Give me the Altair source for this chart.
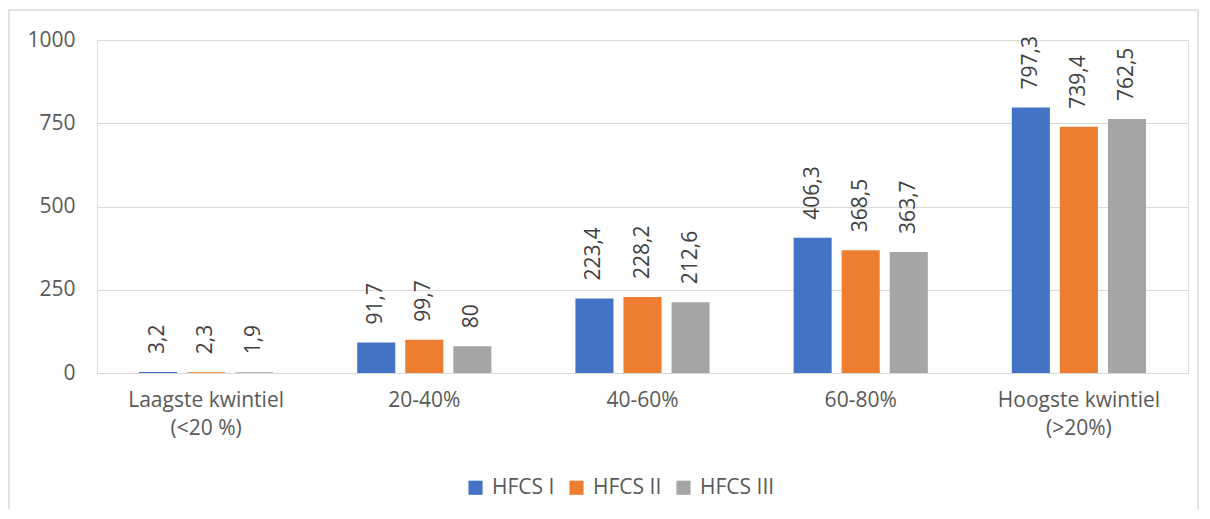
import altair as alt
import pandas as pd

categories = ["Laagste kwintiel|(<20 %)", "20-40%", "40-60%", "60-80%", "Hoogste kwintiel|(>20%)"]
series = ["HFCS I", "HFCS II", "HFCS III"]
hfcs1 = [3.2, 91.7, 223.4, 406.3, 797.3]
hfcs2 = [2.3, 99.7, 228.2, 368.5, 739.4]
hfcs3 = [1.9, 80.0, 212.6, 363.7, 762.5]
colors = ["#4472c4", "#ed7d31", "#a5a5a5"]

rows = []
for s, vals in zip(series, [hfcs1, hfcs2, hfcs3]):
    for c, v in zip(categories, vals):
        lab = ("%g" % v).replace(".", ",")
        rows.append({"cat": c, "series": s, "value": v, "label": lab})
df = pd.DataFrame(rows)

FONT = "Open Sans"
FS = 21
W, H = 1091, 333

x = alt.X("cat:N", sort=categories, scale=alt.Scale(paddingInner=0, paddingOuter=0),
          axis=alt.Axis(title=None, labelAngle=0, labelExpr="split(datum.label, '|')",
                        labelFontSize=FS, labelColor="#595959", labelFont=FONT,
                        labelLineHeight=28, labelPadding=16, ticks=False, domain=False,
                        grid=False))
xo = alt.XOffset("series:N", sort=series, scale=alt.Scale(paddingInner=0.208, paddingOuter=0.874))
y = alt.Y("value:Q", scale=alt.Scale(domain=[0, 1000], nice=False),
          axis=alt.Axis(title=None, values=[0, 250, 500, 750, 1000], format="d", labelFontSize=FS,
                        labelColor="#595959", labelFont=FONT, labelPadding=22,
                        ticks=False, domain=False, gridColor="#d9d9d9", gridWidth=1))

bars = alt.Chart(df).mark_bar().encode(
    x=x, xOffset=xo, y=y,
    color=alt.Color("series:N", sort=series, scale=alt.Scale(domain=series, range=colors),
                    legend=alt.Legend(title=None, orient="none", direction="horizontal",
                                      legendX=368, legendY=437, symbolType="square",
                                      symbolSize=200, symbolStrokeWidth=0, labelFontSize=FS,
                                      labelFont=FONT, labelColor="#595959", columnPadding=11,
                                      labelOffset=6))
)

texts = alt.Chart(df).mark_text(angle=270, align="left", baseline="middle", dx=18,
                                fontSize=FS, font=FONT, color="#404040").encode(
    x=alt.X("cat:N", sort=categories), xOffset=alt.XOffset("series:N", sort=series), y="value:Q",
    text="label:N")

border = alt.Chart(pd.DataFrame({"a": [0]})).mark_rect(fill=None, stroke="#d9d9d9", strokeWidth=1.5).encode(
    x=alt.value(-88), x2=alt.value(1101), y=alt.value(-30), y2=alt.value(520))

chart = alt.layer(border, bars, texts).properties(
    width=W, height=H,
    autosize=alt.AutoSizeParams(type="none"),
    padding={"left": 89, "top": 32, "right": 14, "bottom": 136},
).configure_view(stroke=None).configure(font=FONT)

chart.save("out.html", embed_options={"renderer": "svg", "actions": False})
